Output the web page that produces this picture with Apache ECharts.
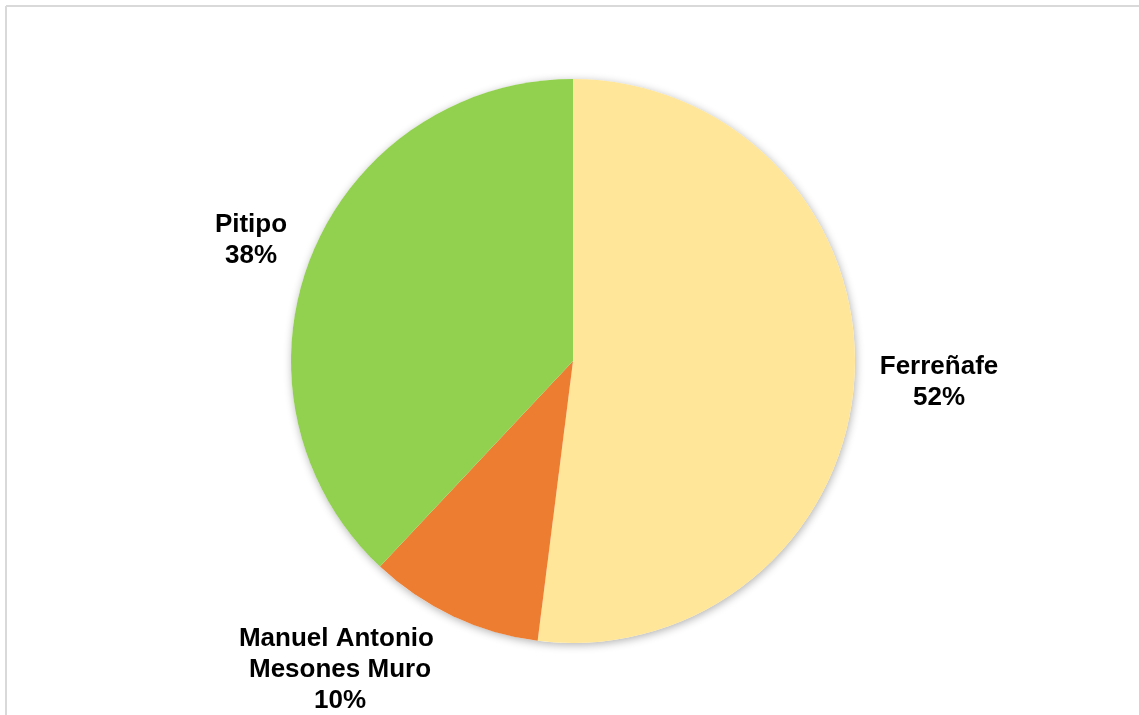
<!DOCTYPE html>
<html>
<head>
<meta charset="utf-8">
<script src="https://cdn.jsdelivr.net/npm/echarts@6/dist/echarts.min.js"></script>
<style>
  html, body { margin: 0; padding: 0; background: #ffffff; }
  #chart { width: 1139px; height: 715px; }
</style>
</head>
<body>
<div id="chart"></div>
<script>
// Data
const categories = ['Ferreñafe', 'Manuel Antonio Mesones Muro', 'Pitipo'];
const values = [52, 10, 38];
const sliceColors = ['#FFE699', '#ED7D31', '#92D050'];

// Label placement (layout only)
const labelCenters = [[939, 382], [340, 670], [251, 240]];

const chart = echarts.init(document.getElementById('chart'), null, { renderer: 'canvas' });

const total = values.reduce((a, b) => a + b, 0);

chart.setOption({
  backgroundColor: '#ffffff',
  animation: false,
  graphic: [
    { type: 'line', shape: { x1: 6, y1: 6, x2: 1139, y2: 6 }, style: { stroke: '#d9d9d9', lineWidth: 2 }, z: 0 },
    { type: 'line', shape: { x1: 6, y1: 6, x2: 6, y2: 715 }, style: { stroke: '#d9d9d9', lineWidth: 2 }, z: 0 }
  ],
  series: [
    {
      // shadow backdrop under the whole pie
      type: 'pie',
      center: [573, 361],
      radius: 282,
      silent: true,
      z: 1,
      label: { show: false },
      labelLine: { show: false },
      data: [{ name: 'shadow', value: total }],
      itemStyle: {
        color: '#ffffff',
        borderWidth: 0,
        shadowBlur: 9,
        shadowColor: 'rgba(0,0,0,0.3)',
        shadowOffsetX: 1,
        shadowOffsetY: 2
      }
    },
    {
      type: 'pie',
      center: [573, 361],
      radius: 282,
      startAngle: 90,
      clockwise: true,
      avoidLabelOverlap: false,
      silent: true,
      z: 2,
      data: categories.map((c, i) => ({
        name: c,
        value: values[i],
        itemStyle: { color: sliceColors[i] }
      })),
      itemStyle: { borderWidth: 0 },
      label: {
        show: true,
        position: 'outside',
        formatter: p => p.name + '\n' + Math.round(p.percent) + '%',
        fontFamily: 'Liberation Sans, Arial, sans-serif',
        fontWeight: 'bold',
        fontSize: 26,
        lineHeight: 31,
        color: '#000000',
        align: 'center',
        width: 220,
        overflow: 'break'
      },
      labelLine: { show: false },
      labelLayout: function (params) {
        const c = labelCenters[params.dataIndex];
        return { x: c[0], y: c[1], align: 'center', verticalAlign: 'middle' };
      }
    }
  ]
});
</script>
</body>
</html>
